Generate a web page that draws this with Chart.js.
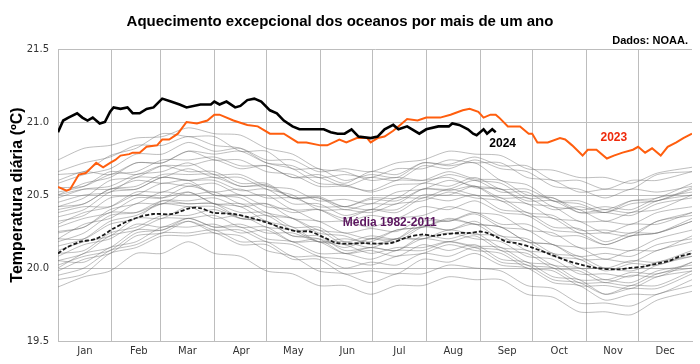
<!DOCTYPE html>
<html>
<head>
<meta charset="utf-8">
<script src="https://cdn.jsdelivr.net/npm/chart.js@4"></script>
<style>
  html, body { margin: 0; padding: 0; background: #fff; }
  #wrap { width: 700px; height: 364px; }
</style>
</head>
<body>
<div id="wrap"><canvas id="oceanChart" width="700" height="364"></canvas></div>
<script>
// Month axis
const monthNames = ['Jan', 'Feb', 'Mar', 'Apr', 'May', 'Jun', 'Jul', 'Aug', 'Sep', 'Oct', 'Nov', 'Dec'];
const monthStarts = [0, 31, 59, 90, 120, 151, 181, 212, 243, 273, 304, 334, 365];
const yTicks = [19.5, 20, 20.5, 21, 21.5];

// 2024 (black), day of year + temperature
const days2024 = [0, 3, 6, 11, 14, 17, 20, 24, 27, 30, 32, 36, 40, 43, 47, 51, 55, 60, 65, 70, 74, 82, 88, 90, 93, 97, 102, 105, 109, 113, 117, 122, 126, 130, 135, 139, 153, 157, 161, 165, 169, 173, 180, 184, 188, 193, 196, 201, 208, 212, 219, 225, 227, 231, 236, 239, 241, 245, 247, 250, 252];
const temp2024 = [20.93, 21.01, 21.03, 21.06, 21.03, 21.01, 21.03, 20.99, 21.00, 21.07, 21.10, 21.09, 21.10, 21.06, 21.06, 21.09, 21.10, 21.16, 21.14, 21.12, 21.10, 21.12, 21.12, 21.14, 21.12, 21.14, 21.10, 21.11, 21.15, 21.16, 21.14, 21.08, 21.06, 21.01, 20.97, 20.95, 20.95, 20.93, 20.92, 20.92, 20.95, 20.90, 20.89, 20.90, 20.95, 20.98, 20.95, 20.97, 20.92, 20.95, 20.97, 20.97, 20.99, 20.98, 20.95, 20.92, 20.91, 20.95, 20.92, 20.95, 20.93];

// 2023 (orange)
const days2023 = [0, 5, 7, 12, 16, 22, 26, 30, 33, 36, 41, 43, 47, 51, 57, 60, 64, 69, 74, 80, 83, 86, 90, 93, 101, 109, 115, 122, 130, 138, 143, 151, 155, 162, 166, 172, 178, 180, 184, 188, 193, 197, 201, 207, 212, 220, 226, 233, 237, 242, 245, 249, 252, 254, 259, 266, 271, 273, 276, 282, 289, 292, 296, 302, 305, 310, 316, 320, 325, 331, 334, 338, 342, 347, 351, 356, 360, 365];
const temp2023 = [20.555, 20.53, 20.54, 20.64, 20.65, 20.72, 20.69, 20.72, 20.74, 20.77, 20.78, 20.79, 20.79, 20.83, 20.84, 20.88, 20.88, 20.92, 21.00, 20.99, 21.00, 21.01, 21.05, 21.05, 21.01, 20.98, 20.97, 20.92, 20.92, 20.86, 20.86, 20.84, 20.84, 20.88, 20.86, 20.89, 20.89, 20.86, 20.89, 20.90, 20.94, 20.98, 21.02, 21.01, 21.03, 21.03, 21.05, 21.08, 21.09, 21.07, 21.03, 21.05, 21.05, 21.03, 20.97, 20.97, 20.92, 20.92, 20.86, 20.86, 20.89, 20.88, 20.84, 20.77, 20.81, 20.81, 20.75, 20.77, 20.79, 20.81, 20.83, 20.79, 20.82, 20.77, 20.83, 20.86, 20.89, 20.92];

// Média 1982-2011 (dashed)
const daysMean = [0, 5, 13, 22, 32, 40, 47, 55, 66, 76, 82, 89, 101, 109, 118, 128, 138, 145, 153, 161, 176, 191, 201, 210, 216, 222, 231, 237, 243, 247, 253, 258, 264, 273, 282, 293, 302, 310, 322, 329, 337, 345, 352, 358, 365];
const tempMean = [20.10, 20.14, 20.18, 20.20, 20.27, 20.32, 20.35, 20.37, 20.37, 20.41, 20.41, 20.38, 20.37, 20.35, 20.32, 20.28, 20.25, 20.25, 20.21, 20.17, 20.17, 20.17, 20.21, 20.23, 20.22, 20.23, 20.24, 20.24, 20.25, 20.24, 20.21, 20.18, 20.17, 20.14, 20.10, 20.05, 20.02, 20.00, 19.99, 20.00, 20.01, 20.03, 20.05, 20.08, 20.10];

// Earlier years (grey), sampled every 15 days
const daysGrey = [0, 15, 30, 45, 60, 75, 90, 105, 120, 135, 150, 165, 180, 195, 210, 225, 240, 255, 270, 285, 300, 315, 330, 345, 365];
const greyYears = [
  [20.74, 20.82, 20.84, 20.89, 20.90, 20.96, 20.92, 20.91, 20.82, 20.78, 20.68, 20.66, 20.60, 20.62, 20.60, 20.62, 20.55, 20.54, 20.46, 20.46, 20.38, 20.40, 20.38, 20.46, 20.50],
  [20.64, 20.66, 20.77, 20.82, 20.92, 20.90, 20.90, 20.80, 20.80, 20.68, 20.68, 20.60, 20.64, 20.62, 20.72, 20.70, 20.72, 20.60, 20.57, 20.46, 20.44, 20.38, 20.44, 20.46, 20.55],
  [20.58, 20.64, 20.68, 20.78, 20.78, 20.86, 20.80, 20.82, 20.74, 20.74, 20.66, 20.68, 20.66, 20.72, 20.74, 20.80, 20.78, 20.77, 20.68, 20.67, 20.62, 20.62, 20.58, 20.65, 20.69],
  [20.55, 20.56, 20.64, 20.66, 20.74, 20.74, 20.76, 20.70, 20.70, 20.62, 20.62, 20.56, 20.62, 20.60, 20.70, 20.68, 20.74, 20.68, 20.66, 20.56, 20.54, 20.48, 20.54, 20.52, 20.56],
  [20.50, 20.58, 20.62, 20.72, 20.72, 20.80, 20.74, 20.74, 20.66, 20.64, 20.56, 20.56, 20.53, 20.60, 20.60, 20.66, 20.61, 20.60, 20.50, 20.48, 20.38, 20.38, 20.36, 20.44, 20.48],
  [20.42, 20.48, 20.60, 20.62, 20.70, 20.70, 20.74, 20.68, 20.70, 20.62, 20.64, 20.58, 20.66, 20.64, 20.72, 20.71, 20.76, 20.70, 20.70, 20.60, 20.60, 20.54, 20.60, 20.60, 20.66],
  [20.48, 20.54, 20.56, 20.64, 20.66, 20.72, 20.64, 20.64, 20.56, 20.54, 20.46, 20.47, 20.44, 20.52, 20.54, 20.60, 20.56, 20.54, 20.44, 20.42, 20.32, 20.32, 20.30, 20.38, 20.42],
  [20.40, 20.44, 20.54, 20.56, 20.64, 20.64, 20.64, 20.56, 20.57, 20.48, 20.49, 20.42, 20.47, 20.46, 20.54, 20.53, 20.56, 20.46, 20.44, 20.34, 20.32, 20.24, 20.30, 20.30, 20.38],
  [20.45, 20.50, 20.52, 20.62, 20.62, 20.68, 20.62, 20.62, 20.54, 20.50, 20.40, 20.40, 20.38, 20.44, 20.46, 20.52, 20.48, 20.46, 20.36, 20.34, 20.24, 20.24, 20.22, 20.32, 20.36],
  [20.35, 20.40, 20.52, 20.54, 20.62, 20.60, 20.60, 20.53, 20.54, 20.44, 20.44, 20.36, 20.40, 20.38, 20.48, 20.46, 20.50, 20.40, 20.38, 20.28, 20.27, 20.18, 20.24, 20.24, 20.32],
  [20.30, 20.38, 20.42, 20.52, 20.52, 20.58, 20.50, 20.50, 20.42, 20.40, 20.32, 20.32, 20.28, 20.34, 20.36, 20.42, 20.38, 20.36, 20.26, 20.24, 20.14, 20.14, 20.12, 20.20, 20.26],
  [20.25, 20.28, 20.40, 20.44, 20.52, 20.50, 20.52, 20.44, 20.44, 20.34, 20.32, 20.24, 20.27, 20.25, 20.34, 20.32, 20.37, 20.28, 20.26, 20.16, 20.14, 20.06, 20.12, 20.12, 20.22],
  [20.20, 20.30, 20.34, 20.44, 20.44, 20.52, 20.44, 20.44, 20.36, 20.34, 20.26, 20.24, 20.20, 20.26, 20.28, 20.33, 20.30, 20.28, 20.18, 20.16, 20.06, 20.06, 20.04, 20.12, 20.18],
  [20.15, 20.20, 20.32, 20.36, 20.44, 20.44, 20.44, 20.38, 20.38, 20.28, 20.28, 20.18, 20.22, 20.20, 20.29, 20.26, 20.32, 20.22, 20.20, 20.10, 20.08, 20.00, 20.05, 20.04, 20.12],
  [20.12, 20.18, 20.22, 20.34, 20.34, 20.42, 20.34, 20.36, 20.28, 20.26, 20.18, 20.18, 20.14, 20.20, 20.20, 20.26, 20.23, 20.22, 20.12, 20.10, 20.00, 20.00, 19.98, 20.04, 20.08],
  [20.05, 20.10, 20.22, 20.26, 20.34, 20.34, 20.36, 20.28, 20.28, 20.18, 20.18, 20.10, 20.14, 20.12, 20.22, 20.20, 20.24, 20.14, 20.12, 20.02, 20.00, 19.92, 19.97, 19.96, 20.04],
  [20.00, 20.10, 20.14, 20.26, 20.26, 20.34, 20.28, 20.28, 20.20, 20.18, 20.10, 20.10, 20.06, 20.12, 20.12, 20.18, 20.15, 20.14, 20.04, 20.02, 19.92, 19.92, 19.90, 19.98, 20.02],
  [19.95, 20.00, 20.12, 20.16, 20.24, 20.24, 20.26, 20.18, 20.18, 20.08, 20.08, 20.00, 20.04, 20.02, 20.10, 20.08, 20.14, 20.04, 20.02, 19.92, 19.90, 19.82, 19.88, 19.88, 19.98],
  [19.87, 19.94, 19.98, 20.10, 20.10, 20.18, 20.10, 20.08, 19.98, 19.96, 19.88, 19.88, 19.82, 19.88, 19.88, 19.94, 19.92, 19.92, 19.82, 19.80, 19.70, 19.70, 19.68, 19.78, 19.84],
  [20.20, 20.20, 20.30, 20.34, 20.46, 20.46, 20.48, 20.42, 20.44, 20.38, 20.40, 20.34, 20.40, 20.40, 20.50, 20.50, 20.56, 20.48, 20.48, 20.40, 20.42, 20.38, 20.46, 20.48, 20.58],
  [20.50, 20.54, 20.54, 20.60, 20.58, 20.60, 20.50, 20.48, 20.38, 20.34, 20.24, 20.22, 20.16, 20.20, 20.20, 20.24, 20.20, 20.18, 20.08, 20.06, 19.96, 19.96, 19.94, 20.02, 20.08],
  [20.05, 20.04, 20.14, 20.18, 20.28, 20.28, 20.30, 20.24, 20.26, 20.18, 20.20, 20.14, 20.20, 20.20, 20.32, 20.32, 20.38, 20.30, 20.30, 20.22, 20.22, 20.16, 20.22, 20.24, 20.34],
  [20.38, 20.42, 20.42, 20.50, 20.48, 20.52, 20.44, 20.42, 20.32, 20.28, 20.18, 20.16, 20.10, 20.14, 20.14, 20.18, 20.14, 20.12, 20.02, 20.00, 19.90, 19.90, 19.88, 19.96, 20.00],
  [19.92, 19.96, 20.10, 20.14, 20.22, 20.22, 20.24, 20.16, 20.16, 20.06, 20.06, 19.96, 19.98, 19.96, 20.06, 20.04, 20.10, 20.02, 20.00, 19.90, 19.88, 19.78, 19.82, 19.82, 19.92],
  [20.28, 20.34, 20.38, 20.48, 20.48, 20.56, 20.52, 20.54, 20.48, 20.48, 20.42, 20.42, 20.40, 20.48, 20.48, 20.54, 20.50, 20.48, 20.38, 20.36, 20.26, 20.26, 20.24, 20.32, 20.38],
  [20.10, 20.12, 20.24, 20.28, 20.36, 20.36, 20.40, 20.34, 20.36, 20.26, 20.26, 20.16, 20.20, 20.18, 20.28, 20.26, 20.30, 20.20, 20.18, 20.08, 20.06, 19.98, 20.03, 20.02, 20.10],
  [20.02, 20.08, 20.12, 20.24, 20.26, 20.32, 20.24, 20.22, 20.12, 20.08, 19.98, 19.96, 19.90, 19.96, 19.96, 20.02, 20.00, 19.98, 19.88, 19.86, 19.76, 19.76, 19.74, 19.82, 19.88],
  [20.32, 20.36, 20.48, 20.50, 20.58, 20.56, 20.58, 20.50, 20.50, 20.40, 20.40, 20.32, 20.36, 20.34, 20.42, 20.40, 20.46, 20.38, 20.36, 20.26, 20.24, 20.16, 20.22, 20.24, 20.32],
  [20.60, 20.66, 20.64, 20.72, 20.72, 20.80, 20.78, 20.80, 20.72, 20.70, 20.62, 20.64, 20.62, 20.68, 20.68, 20.74, 20.72, 20.72, 20.62, 20.60, 20.52, 20.54, 20.54, 20.64, 20.66],
  [20.18, 20.24, 20.36, 20.38, 20.46, 20.44, 20.44, 20.34, 20.32, 20.22, 20.22, 20.12, 20.14, 20.12, 20.20, 20.18, 20.22, 20.12, 20.10, 20.00, 19.98, 19.90, 19.95, 19.94, 20.04],
  [19.98, 20.06, 20.10, 20.22, 20.24, 20.32, 20.26, 20.26, 20.18, 20.16, 20.08, 20.06, 20.02, 20.08, 20.10, 20.16, 20.12, 20.10, 20.00, 19.98, 19.88, 19.88, 19.86, 19.94, 19.98],
  [20.42, 20.44, 20.54, 20.54, 20.62, 20.60, 20.62, 20.56, 20.56, 20.48, 20.48, 20.40, 20.44, 20.44, 20.54, 20.54, 20.60, 20.52, 20.52, 20.42, 20.40, 20.32, 20.38, 20.40, 20.50],
  [20.66, 20.72, 20.76, 20.84, 20.84, 20.90, 20.84, 20.82, 20.72, 20.68, 20.58, 20.57, 20.52, 20.57, 20.58, 20.64, 20.60, 20.58, 20.48, 20.48, 20.40, 20.42, 20.40, 20.48, 20.52],
  [20.24, 20.28, 20.38, 20.38, 20.44, 20.42, 20.42, 20.34, 20.32, 20.22, 20.20, 20.10, 20.12, 20.08, 20.16, 20.12, 20.16, 20.06, 20.04, 19.94, 19.92, 19.82, 19.86, 19.86, 19.96],
  [20.08, 20.16, 20.20, 20.30, 20.28, 20.34, 20.28, 20.30, 20.24, 20.24, 20.18, 20.20, 20.18, 20.26, 20.28, 20.34, 20.30, 20.28, 20.18, 20.16, 20.08, 20.10, 20.08, 20.16, 20.20],
  [20.52, 20.56, 20.66, 20.64, 20.70, 20.66, 20.66, 20.58, 20.58, 20.48, 20.48, 20.42, 20.48, 20.48, 20.58, 20.56, 20.62, 20.54, 20.54, 20.46, 20.46, 20.40, 20.46, 20.46, 20.54]
];

const tickFont = { family: '"DejaVu Sans", sans-serif', size: 10 };
const gridColor = '#bdbdbd';

function toPoints(days, temps) {
    return temps.map((t, i) => ({ x: days[i], y: t }));
}

const datasets = [
    {
        label: '2024',
        data: toPoints(days2024, temp2024),
        borderColor: '#000000',
        borderWidth: 2.6,
        tension: 0
    },
    {
        label: '2023',
        data: toPoints(days2023, temp2023),
        borderColor: '#ff5e0e',
        borderWidth: 2,
        tension: 0
    },
    {
        label: 'Média 1982-2011',
        data: toPoints(daysMean, tempMean),
        borderColor: '#1a1a1a',
        borderWidth: 1.8,
        borderDash: [4, 2],
        tension: 0.3
    }
];
greyYears.forEach((temps, i) => {
    datasets.push({
        label: 'grey' + i,
        data: toPoints(daysGrey, temps),
        borderColor: 'rgba(110,110,110,0.45)',
        borderWidth: 1,
        tension: 0.25
    });
});

// Title, source and line labels
const textPlugin = {
    id: 'textPlugin',
    afterDatasetsDraw(chart) {
        const { ctx, scales: { x, y } } = chart;
        ctx.save();
        ctx.textBaseline = 'middle';
        ctx.textAlign = 'center';
        ctx.font = 'bold 12px "Liberation Sans", Arial, sans-serif';
        ctx.fillStyle = '#000';
        ctx.fillText('2024', x.getPixelForValue(256), y.getPixelForValue(20.85));
        ctx.fillStyle = '#ee2a0c';
        ctx.fillText('2023', x.getPixelForValue(320), y.getPixelForValue(20.89));
        ctx.fillStyle = '#5c1760';
        ctx.fillText('Média 1982-2011', x.getPixelForValue(191), y.getPixelForValue(20.31));

        ctx.fillStyle = '#000';
        ctx.font = 'bold 15px "Liberation Sans", Arial, sans-serif';
        ctx.fillText('Aquecimento excepcional dos oceanos por mais de um ano', 340, 22);
        ctx.textAlign = 'right';
        ctx.font = 'bold 11px "Liberation Sans", Arial, sans-serif';
        ctx.fillText('Dados: NOAA.', 688, 41);
        ctx.restore();
    }
};

const ctx = document.getElementById('oceanChart').getContext('2d');
new Chart(ctx, {
    type: 'line',
    data: { datasets },
    plugins: [textPlugin],
    options: {
        responsive: false,
        animation: false,
        events: [],
        layout: { padding: { top: 49, right: 8, bottom: 0, left: 0 } },
        elements: { point: { radius: 0 } },
        plugins: {
            legend: { display: false },
            tooltip: { enabled: false }
        },
        scales: {
            x: {
                type: 'linear',
                min: 0,
                max: 365,
                afterBuildTicks: (scale) => {
                    scale.ticks = monthStarts.map(v => ({ value: v }));
                },
                afterFit: (scale) => { scale.height = 23; },
                ticks: {
                    autoSkip: false,
                    maxRotation: 0,
                    labelOffset: 27,
                    padding: 4,
                    color: '#333',
                    font: tickFont,
                    callback: (value, index) => monthNames[index] || ''
                },
                grid: {
                    drawTicks: false,
                    color: (c) => (c.tick && c.tick.value === 365) ? 'rgba(0,0,0,0)' : gridColor
                },
                border: { color: gridColor }
            },
            y: {
                min: 19.5,
                max: 21.5,
                afterBuildTicks: (scale) => {
                    scale.ticks = yTicks.map(v => ({ value: v }));
                },
                afterFit: (scale) => { scale.width = 58; },
                ticks: {
                    padding: 9,
                    color: '#333',
                    font: tickFont
                },
                grid: { drawTicks: false, color: gridColor },
                border: { color: gridColor },
                title: {
                    display: true,
                    text: 'Temperatura diária (ºC)',
                    color: '#000',
                    padding: { top: 8, bottom: 0 },
                    font: { family: '"Liberation Sans", Arial, sans-serif', size: 16, weight: 'bold' }
                }
            }
        }
    }
});
</script>
</body>
</html>
